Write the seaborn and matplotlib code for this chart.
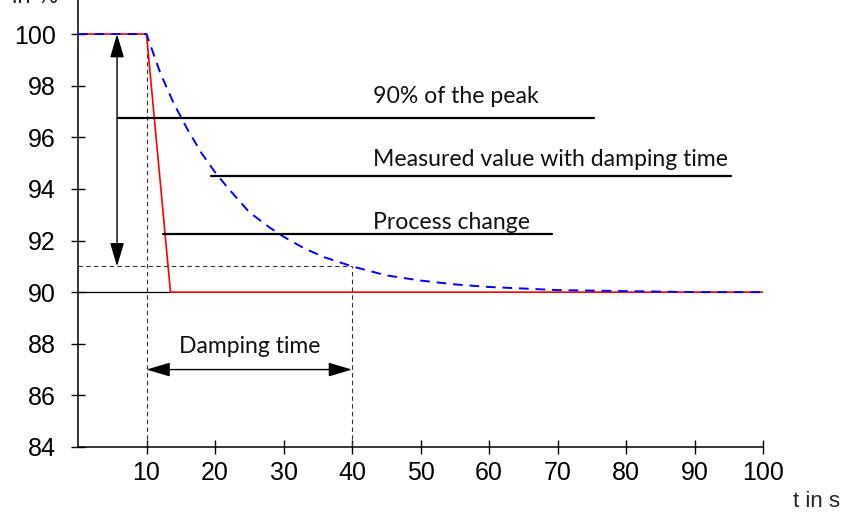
import pandas as pd
import numpy as np
import matplotlib
matplotlib.use("Agg")
import matplotlib.pyplot as plt
import seaborn as sns

# process change (red) and measured value with damping (blue dashed)
t_process = [0, 10, 13.5, 100]
v_process = [100, 100, 90, 90]

t_measured = [0, 10, 12, 14, 16, 18, 20, 22, 25, 28, 30, 33, 36, 40, 45, 50, 55, 60, 70, 80, 90, 100]
v_measured = [100, 100, 98.5, 97.3, 96.3, 95.4, 94.65, 94.0, 93.1, 92.5, 92.15, 91.7, 91.35, 91.0,
              90.65, 90.45, 90.3, 90.2, 90.08, 90.04, 90.0, 90.0]

x_ticks = [10, 20, 30, 40, 50, 60, 70, 80, 90, 100]
y_ticks = [84, 86, 88, 90, 92, 94, 96, 98, 100]

# annotation labels with their leader lines
label_texts = ["90% of the peak", "Measured value with damping time", "Process change"]
label_text_y = [97.33, 94.89, 92.44]
label_y = [96.74, 94.5, 92.25]
label_x0 = [5.8, 19.4, 12.4]
label_x1 = [75.3, 95.3, 69.2]

peak_level = 91.0
damping_start = 10
damping_end = 40

sns.set_style("ticks")
plt.rcParams["font.family"] = ["Liberation Sans", "DejaVu Sans"]

fig = plt.figure(figsize=(8.43, 5.12), dpi=100)
ax = fig.add_axes([78 / 843, 65 / 512, (763 - 78) / 843, 447 / 512])

proc = pd.DataFrame({"t": t_process, "v": v_process})
meas = pd.DataFrame({"t": t_measured, "v": v_measured})

# helper lines
ax.plot([0, 13.5], [90, 90], color="black", lw=0.9, zorder=1)
ax.plot([0, damping_end], [peak_level, peak_level], color="#333333", lw=0.8,
        linestyle=(0, (4, 3)), zorder=1)
ax.plot([damping_start, damping_start], [84, 100], color="#333333", lw=0.8,
        linestyle=(0, (4, 3)), zorder=1)
ax.plot([damping_end, damping_end], [84, peak_level], color="#333333", lw=0.8,
        linestyle=(0, (4, 3)), zorder=1)

sns.lineplot(data=proc, x="t", y="v", ax=ax, color="red", lw=1.2, estimator=None, sort=False, zorder=3)
sns.lineplot(data=meas, x="t", y="v", ax=ax, color="blue", lw=1.4, estimator=None,
             linestyle=(0, (5, 3.5)), zorder=4)

for txt, ty, ly, x0, x1 in zip(label_texts, label_text_y, label_y, label_x0, label_x1):
    ax.plot([x0, x1], [ly, ly], color="black", lw=1.6, zorder=5)
    ax.text(43.1, ty, txt, family=["Lato", "DejaVu Sans"], fontsize=16.6,
            ha="left", va="baseline", color="#111111")

arrow = dict(arrowstyle="<|-|>,head_length=1.45,head_width=0.43", mutation_scale=10,
             color="black", lw=1.0, shrinkA=0, shrinkB=0)
ax.annotate("", xy=(5.7, 100), xytext=(5.7, peak_level), arrowprops=arrow, zorder=6)
ax.annotate("", xy=(damping_start, 87.0), xytext=(damping_end, 87.0), arrowprops=arrow, zorder=6)
ax.text(25.1, 87.64, "Damping time", family=["Lato", "DejaVu Sans"], fontsize=16.5,
        ha="center", va="baseline", color="#111111")

ax.set_xlim(0, 100)
ax.set_ylim(84, 101.32)
ax.set_xticks(x_ticks)
ax.set_yticks(y_ticks)
ax.set_xticklabels([str(v) for v in x_ticks])
ax.set_yticklabels([str(v) for v in y_ticks])
ax.tick_params(direction="inout", length=10, width=1, labelsize=18, colors="black")
ax.tick_params(axis="y", pad=11)
ax.tick_params(axis="x", pad=5)
ax.set_xlabel("")
ax.set_ylabel("")
sns.despine(ax=ax)
for s in ["left", "bottom"]:
    ax.spines[s].set_color("black")
    ax.spines[s].set_linewidth(1.1)

fig.text(12 / 843, 1 - 3 / 512, "in %", fontsize=17, ha="left", va="baseline")
fig.text(840 / 843, 5 / 512, "t in s", fontsize=16, ha="right", va="baseline")

fig.savefig("out.png", dpi=100)
